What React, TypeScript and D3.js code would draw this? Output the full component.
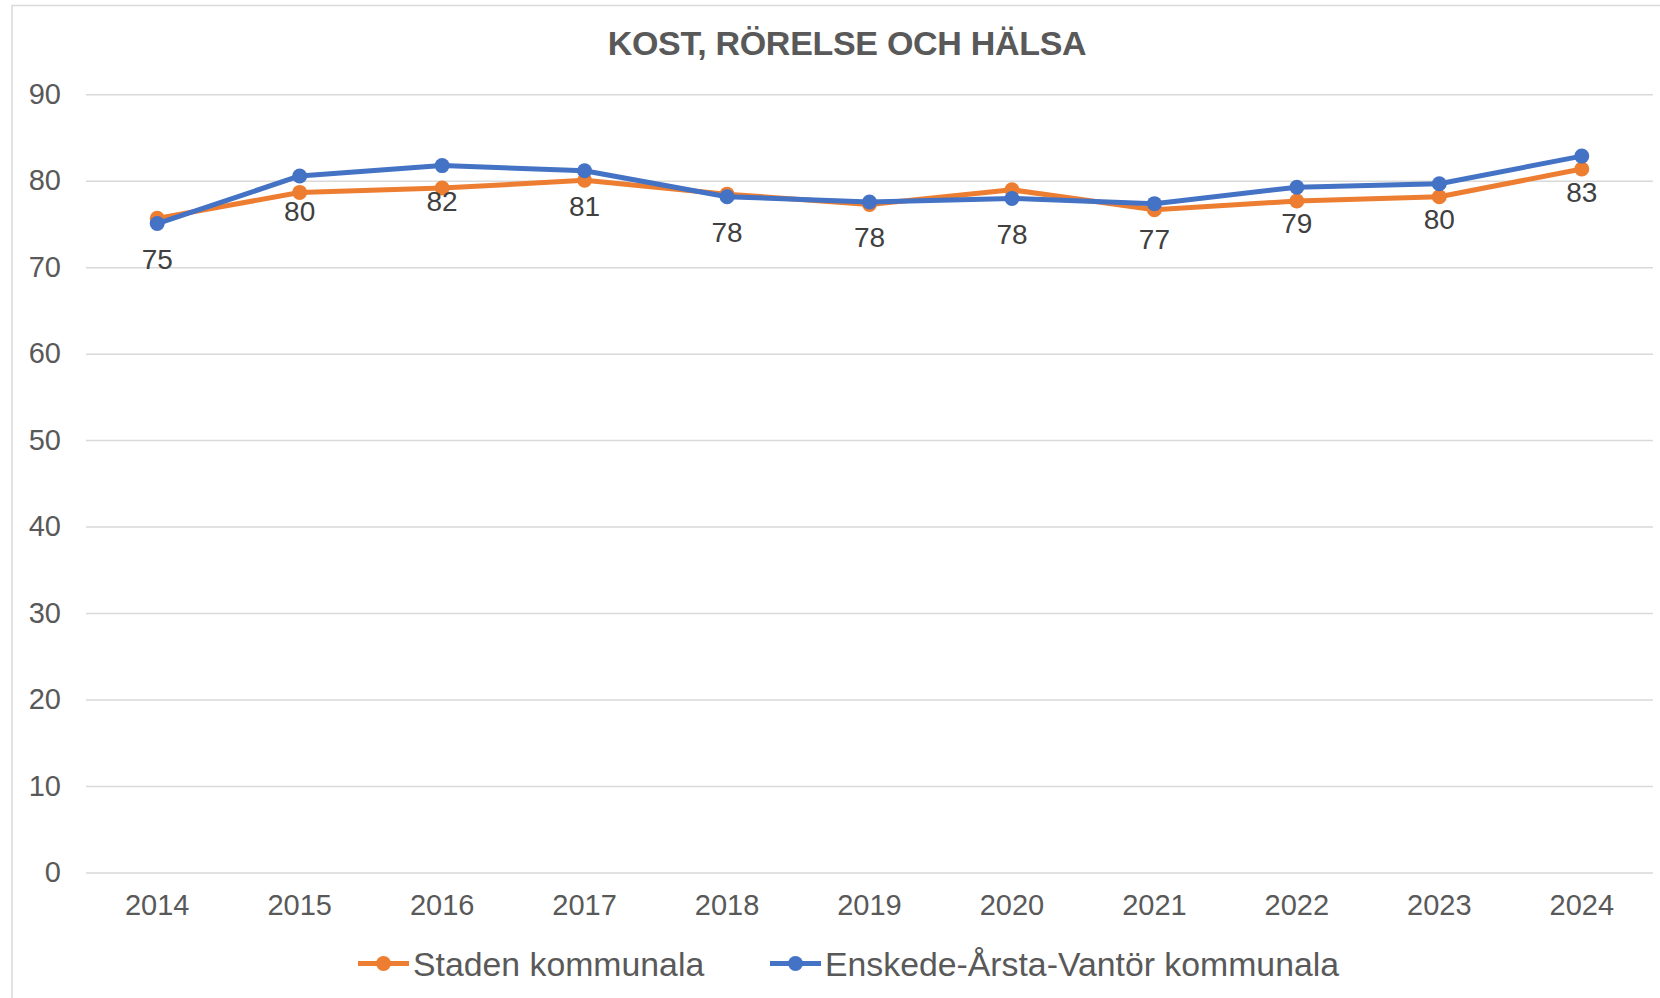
import React, { useRef, useEffect } from 'react';
import * as d3 from 'd3';

const years = ['2014', '2015', '2016', '2017', '2018', '2019', '2020', '2021', '2022', '2023', '2024'];
const stadenValues = [75.7, 78.7, 79.2, 80.1, 78.5, 77.3, 79.0, 76.7, 77.7, 78.2, 81.4];
const enskedeValues = [75.1, 80.6, 81.8, 81.2, 78.2, 77.6, 78.0, 77.4, 79.3, 79.7, 82.9];
const labelValues = [75, 80, 82, 81, 78, 78, 78, 77, 79, 80, 83];
const yTicks = [0, 10, 20, 30, 40, 50, 60, 70, 80, 90];
const seriesNames = ['Staden kommunala', 'Enskede-Årsta-Vantör kommunala'];
const seriesColors = ['#ED7D31', '#4472C4'];
const chartTitle = 'KOST, RÖRELSE OCH HÄLSA';

const App = () => {
  const svgRef = useRef<SVGSVGElement>(null);

  useEffect(() => {
    const svg = d3.select(svgRef.current);
    svg.selectAll('*').remove();

    const W = 1660;
    const H = 998;
    const font = '"Liberation Sans", Arial, sans-serif';
    const textColor = '#595959';

    const x = d3.scalePoint<string>().domain(years).range([86, 1653]).padding(0.5);
    const y = d3.scaleLinear().domain([0, 90]).range([873, 94.7]);

    svg.append('rect')
      .attr('width', W).attr('height', H).attr('fill', '#fff');

    // outer chart border (right/bottom run off the picture)
    svg.append('rect')
      .attr('x', 12).attr('y', 5.5)
      .attr('width', W + 20).attr('height', H + 20)
      .attr('fill', 'none').attr('stroke', '#d9d9d9').attr('stroke-width', 1.5);

    svg.append('text')
      .attr('x', 847).attr('y', 55)
      .attr('text-anchor', 'middle')
      .attr('font-family', font).attr('font-weight', 'bold').attr('font-size', 34)
      .attr('letter-spacing', -0.3)
      .attr('fill', textColor)
      .text(chartTitle);

    // gridlines
    svg.append('g')
      .selectAll('line')
      .data(yTicks)
      .enter().append('line')
      .attr('x1', 86).attr('x2', 1653)
      .attr('y1', d => y(d)).attr('y2', d => y(d))
      .attr('stroke', '#d9d9d9').attr('stroke-width', 1.5);

    svg.append('g')
      .selectAll('text')
      .data(yTicks)
      .enter().append('text')
      .attr('x', 61).attr('y', d => y(d) - 1)
      .attr('text-anchor', 'end').attr('dominant-baseline', 'central')
      .attr('font-family', font).attr('font-size', 29).attr('fill', textColor)
      .text(d => d);

    svg.append('g')
      .selectAll('text')
      .data(years)
      .enter().append('text')
      .attr('x', d => x(d)!).attr('y', 905)
      .attr('text-anchor', 'middle').attr('dominant-baseline', 'central')
      .attr('font-family', font).attr('font-size', 29).attr('fill', textColor)
      .text(d => d);

    const line = d3.line<number>()
      .x((_, i) => x(years[i])!)
      .y(d => y(d));

    [stadenValues, enskedeValues].forEach((vals, si) => {
      const g = svg.append('g');
      g.append('path')
        .datum(vals)
        .attr('d', line)
        .attr('fill', 'none')
        .attr('stroke', seriesColors[si])
        .attr('stroke-width', 5)
        .attr('stroke-linejoin', 'round')
        .attr('stroke-linecap', 'round');
      g.selectAll('circle')
        .data(vals)
        .enter().append('circle')
        .attr('cx', (_, i) => x(years[i])!)
        .attr('cy', d => y(d))
        .attr('r', 7.5)
        .attr('fill', seriesColors[si]);
    });

    // data labels under the blue series
    svg.append('g')
      .selectAll('text')
      .data(labelValues)
      .enter().append('text')
      .attr('x', (_, i) => x(years[i])!)
      .attr('y', (_, i) => y(enskedeValues[i]) + 36)
      .attr('text-anchor', 'middle').attr('dominant-baseline', 'central')
      .attr('font-family', font).attr('font-size', 28).attr('fill', '#404040')
      .text(d => d);

    // legend
    const legendX = [358, 770];
    const legend = svg.append('g');
    seriesNames.forEach((name, i) => {
      const lx = legendX[i];
      legend.append('line')
        .attr('x1', lx).attr('x2', lx + 51)
        .attr('y1', 963.5).attr('y2', 963.5)
        .attr('stroke', seriesColors[i]).attr('stroke-width', 5);
      legend.append('circle')
        .attr('cx', lx + 25.5).attr('cy', 963.5).attr('r', 7.5)
        .attr('fill', seriesColors[i]);
      legend.append('text')
        .attr('x', lx + 55).attr('y', 964)
        .attr('dominant-baseline', 'central')
        .attr('font-family', font).attr('font-size', 33.8).attr('fill', textColor)
        .text(name);
    });
  }, []);

  return (
    <svg
      ref={svgRef}
      width={1660}
      height={998}
      style={{ position: 'absolute', left: 0, top: 0, display: 'block' }}
    />
  );
};

export default App;
